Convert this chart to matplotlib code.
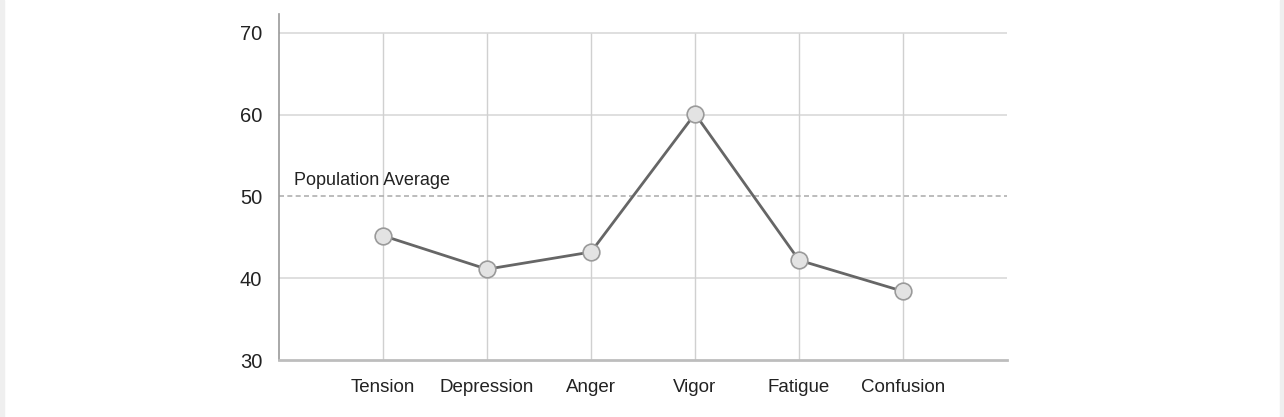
import matplotlib
matplotlib.use("Agg")
import matplotlib.pyplot as plt
from matplotlib.patches import Rectangle

# mood profile data
categories = ["Tension", "Depression", "Anger", "Vigor", "Fatigue", "Confusion"]
scores = [45.2, 41.1, 43.2, 60.1, 42.2, 38.4]
population_avg = 50
y_ticks = [30, 40, 50, 60, 70]

plt.rcParams['font.family'] = ['Liberation Sans', 'DejaVu Sans']

fig = plt.figure(figsize=(12.84, 4.17), dpi=100)
# light gray strips at both edges
fig.patches.append(Rectangle((0, 0), 4 / 1284, 1, transform=fig.transFigure, color="#efefef", zorder=0))
fig.patches.append(Rectangle((1 - 4 / 1284, 0), 4 / 1284, 1, transform=fig.transFigure, color="#efefef", zorder=0))

ax = fig.add_axes([279 / 1284, 57 / 417, 728 / 1284, 346 / 417])
x = list(range(1, len(categories) + 1))

ax.set_xlim(0, 7)
ax.set_ylim(30, 72.3)

# grid
for yv in [40, 60, 70]:
    ax.hlines(yv, 0, 7, color="#d9d9d9", lw=1.2, zorder=1)
ax.vlines(x, 30, 70, color="#d0d0d0", lw=1.0, zorder=1)
ax.hlines(population_avg, 0, 7, color="#b0b0b0", lw=1.2, linestyles=(0, (3, 2)), zorder=1)
ax.text(0.14, 52.0, "Population Average", fontsize=13, color="#222222", va="center", ha="left")

ax.plot(x, scores, color="#666666", lw=2, marker="o", markersize=12,
        markerfacecolor="#e3e3e3", markeredgecolor="#9a9a9a", markeredgewidth=1.2, zorder=3)

ax.set_xticks(x)
ax.set_xticklabels(categories, fontsize=13.5, color="#222222")
ax.set_yticks(y_ticks)
ax.set_yticklabels([str(v) for v in y_ticks], fontsize=14.5, color="#222222")
ax.tick_params(axis="x", length=0, pad=14)
ax.tick_params(axis="y", length=0, pad=12)

for s in ["top", "right"]:
    ax.spines[s].set_visible(False)
ax.spines["left"].set_color("#999999")
ax.spines["left"].set_linewidth(1.2)
ax.spines["bottom"].set_color("#bdbdbd")
ax.spines["bottom"].set_linewidth(2)

fig.savefig("out.png", dpi=100)
